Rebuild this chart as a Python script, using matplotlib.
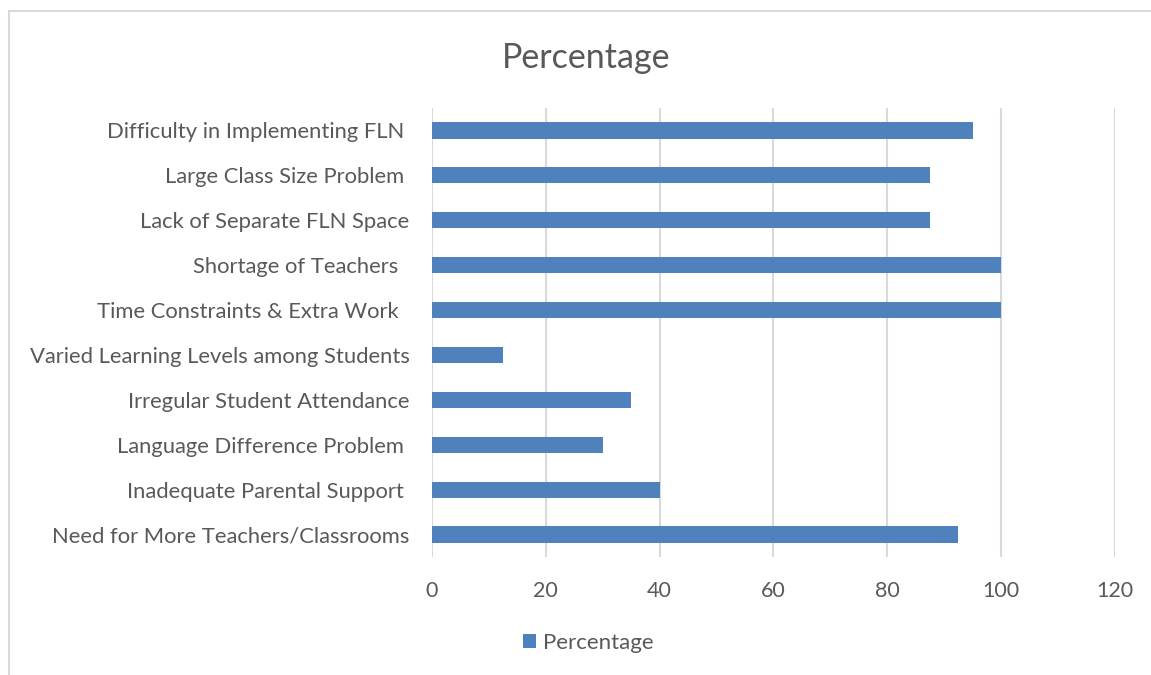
import matplotlib.pyplot as plt
from matplotlib.patches import Rectangle

# categories listed top to bottom as in the chart
categories = [
    "Difficulty in Implementing FLN ",
    "Large Class Size Problem ",
    "Lack of Separate FLN Space",
    "Shortage of Teachers  ",
    "Time Constraints & Extra Work  ",
    "Varied Learning Levels among Students",
    "Irregular Student Attendance",
    "Language Difference Problem ",
    "Inadequate Parental Support ",
    "Need for More Teachers/Classrooms",
]
percentage = [95, 87.5, 87.5, 100, 100, 12.5, 35, 30, 40, 92.5]
x_ticks = [0, 20, 40, 60, 80, 100, 120]

bar_color = "#4F81BD"
text_color = "#595959"
grid_color = "#D9D9D9"

plt.rcParams["font.family"] = ["Lato", "DejaVu Sans"]

fig = plt.figure(figsize=(11.51, 6.75), dpi=100)
ax = fig.add_axes([0.3753, 0.1748, 0.5934, 0.6652])

# chart frame (Excel style, cropped at right and bottom)
fig.patches.append(Rectangle((9 / 1151, -0.01), 1.2, 1 - 10.5 / 675 + 0.01,
                             transform=fig.transFigure, fill=False,
                             edgecolor=grid_color, linewidth=1.5))

ypos = list(range(len(categories)))[::-1]
ax.barh(ypos, percentage, height=0.36, color=bar_color, label="Percentage", zorder=3)

ax.set_xlim(0, 120)
ax.set_ylim(-0.5, len(categories) - 0.5)
ax.set_xticks(x_ticks)
ax.set_xticklabels([str(t) for t in x_ticks], fontsize=15.5, color=text_color)
ax.set_yticks(ypos)
ax.set_yticklabels(categories, fontsize=15.8, color=text_color)
ax.tick_params(axis="both", length=0)
ax.tick_params(axis="x", pad=17)
ax.tick_params(axis="y", pad=16)

ax.grid(axis="x", color=grid_color, linewidth=1.5, zorder=0)
for s in ax.spines.values():
    s.set_visible(False)

fig.text(0.509, 0.914, "Percentage", ha="center", va="center",
         fontsize=24.5, color=text_color)

fig.legend(loc="center", bbox_to_anchor=(0.511, 0.047), frameon=False,
           fontsize=16, labelcolor=text_color, handlelength=0.6,
           handleheight=0.6, handletextpad=0.3)

fig.savefig("out.png", dpi=100)
